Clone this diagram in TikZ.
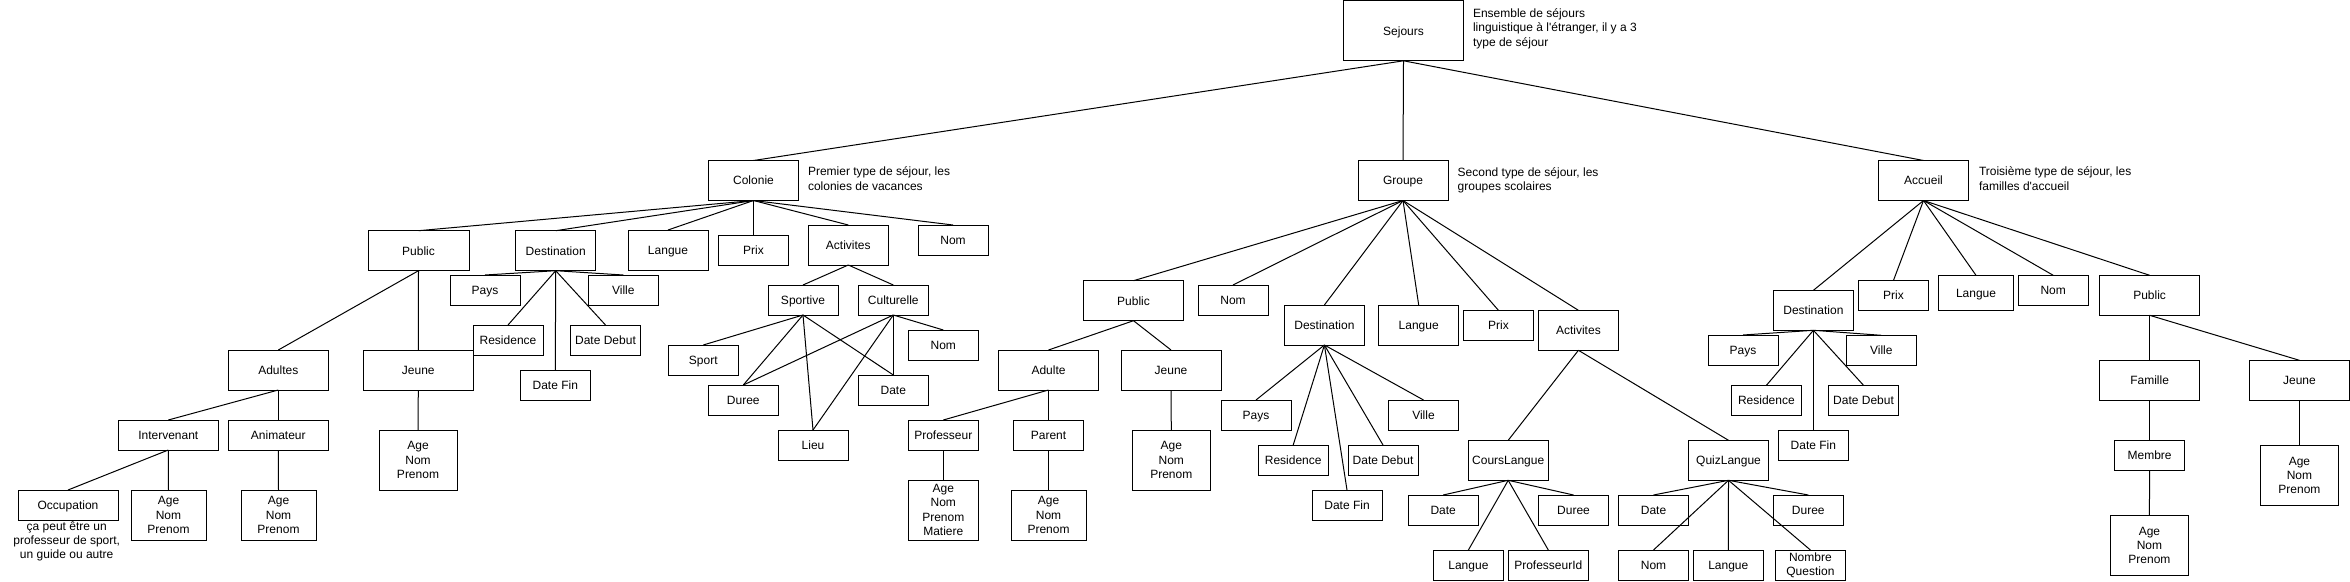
\documentclass[tikz,border=0pt]{standalone}
\usepackage{fontspec}
\setmainfont{Liberation Sans}
\tikzset{
  bx/.style={draw, line width=1pt, inner sep=0pt, outer sep=0pt, align=center, font=\fontsize{12}{14.2}\selectfont},
  oneline/.style={text height=8.6pt, text depth=0pt},
  lnk/.style={line width=1pt},
  notetext/.style={inner sep=0pt, outer sep=0pt, anchor=north west, align=left, font=\fontsize{12}{14.6}\selectfont},
}
\newcommand\mybox[6]{\node[bx, oneline, minimum width=#4pt, minimum height=#5pt] (#1) at (#2,#3) {#6};}
\newcommand\mlbox[6]{\node[bx, minimum width=#4pt, minimum height=#5pt] (#1) at (#2,#3) {#6};}
\begin{document}
\begin{tikzpicture}[x=1pt,y=-1pt]
\useasboundingbox[fill=white] (0,0) rectangle (2350,581);
% root
\mybox{sej}{1403.5}{30.8}{120}{60}{Sejours}
\node[notetext] (sejnote) at (1473,8.4) {Ensemble de séjours\\linguistique à l\textquotesingle étranger, il y a 3\\type de séjour};
% level 1
\mybox{col}{753.5}{180.5}{90}{40}{Colonie}
\mybox{grp}{1403}{180.5}{90}{40}{Groupe}
\mybox{acc}{1923.5}{180.5}{90}{40}{Accueil}
\node[notetext] (colnote) at (808,166.8) {Premier type de séjour, les\\colonies de vacances};
\node[notetext] (grpnote) at (1457.7,167.4) {Second type de séjour, les\\groupes scolaires};
\node[notetext] (accnote) at (1979,166.8) {Troisième type de séjour, les\\familles d\textquotesingle accueil};
% Colonie
\mybox{cpub}{418.5}{250.7}{101}{40}{Public}
\mybox{cdest}{555.7}{250.7}{80}{40}{Destination}
\mybox{clang}{668}{250}{80}{40}{Langue}
\mybox{cprix}{753.5}{250}{70}{30}{Prix}
\mybox{cact}{848.3}{245}{80}{40}{Activites}
\mybox{cnom}{953}{240}{70}{30}{Nom}
\mybox{cadu}{278.3}{370}{100}{40}{Adultes}
\mybox{cjeu}{418.3}{370}{110}{40}{Jeune}
\mlbox{cjeuA}{418}{460}{78}{60}{Age\\Nom\\Prenom}
\mybox{cint}{168.3}{435}{100}{30}{Intervenant}
\mybox{cani}{278.3}{435}{100}{30}{Animateur}
\mybox{cocc}{68}{505}{100}{30}{Occupation}
\mlbox{cintA}{168.5}{515}{75}{50}{Age\\Nom\\Prenom}
\mlbox{caniA}{278.5}{515}{75}{50}{Age\\Nom\\Prenom}
\begin{scope}
\clip (0,500) rectangle (200,560);
\node[inner sep=0pt, align=center, font=\fontsize{12}{14}\selectfont] (occnote) at (66.7,541.5) {ça peut être un\\professeur de sport,\\un guide ou autre};
\end{scope}
\mybox{cpays}{485}{290}{70}{30}{Pays}
\mybox{cville}{623.3}{290}{70}{30}{Ville}
\mybox{cres}{508}{340}{70}{30}{Residence}
\mybox{cdeb}{605.5}{340}{70}{30}{Date Debut}
\mybox{cfin}{555.3}{385}{70}{30}{Date Fin}
\mybox{cspo}{803}{300}{70}{30}{Sportive}
\mybox{ccul}{893.3}{300}{70}{30}{Culturelle}
\mybox{csport}{703.3}{360}{70}{30}{Sport}
\mybox{cduree}{743.3}{400}{70}{30}{Duree}
\mybox{cdate}{893.3}{390}{70}{30}{Date}
\mybox{clieu}{813}{445}{70}{30}{Lieu}
\mybox{cnomb}{943.3}{345}{70}{30}{Nom}
% Groupe
\mybox{gpub}{1133.5}{300.7}{100}{40}{Public}
\mybox{gnom}{1233}{300}{70}{30}{Nom}
\mybox{gdest}{1324.4}{325}{80}{40}{Destination}
\mybox{glang}{1418.7}{325}{80}{40}{Langue}
\mybox{gprix}{1498.4}{325.3}{70}{30}{Prix}
\mybox{gact}{1578.4}{330.3}{80}{40}{Activites}
\mybox{gadu}{1048.5}{370}{100}{40}{Adulte}
\mybox{gjeu}{1171}{370}{100}{40}{Jeune}
\mybox{gprof}{943.3}{435}{70}{30}{Professeur}
\mybox{gpar}{1048.5}{435}{70}{30}{Parent}
\mlbox{gprofA}{943.3}{510}{70}{60}{Age\\Nom\\Prenom\\Matiere}
\mlbox{gparA}{1048.5}{515}{75}{50}{Age\\Nom\\Prenom}
\mlbox{gjeuA}{1171.3}{460}{78}{60}{Age\\Nom\\Prenom}
\mybox{gpays}{1256}{415}{70}{30}{Pays}
\mybox{gville}{1423.5}{415}{70}{30}{Ville}
\mybox{gres}{1293.2}{460}{70}{30}{Residence}
\mybox{gdeb}{1383}{460}{70}{30}{Date Debut}
\mybox{gfin}{1347}{505}{70}{30}{Date Fin}
\mybox{gcours}{1508.2}{460.3}{80}{40}{CoursLangue}
\mybox{gquiz}{1728.5}{460.3}{80}{40}{QuizLangue}
\mybox{gcdate}{1443.2}{510}{70}{30}{Date}
\mybox{gcdur}{1573.5}{510}{70}{30}{Duree}
\mybox{gclang}{1468.4}{565}{70}{30}{Langue}
\mybox{gcprof}{1548.3}{565}{80}{30}{ProfesseurId}
\mybox{gqdate}{1653.5}{510}{70}{30}{Date}
\mybox{gqdur}{1808.3}{510}{70}{30}{Duree}
\mybox{gqnom}{1653.5}{565}{70}{30}{Nom}
\mybox{gqlang}{1728.3}{565}{70}{30}{Langue}
\mlbox{gqnq}{1810.4}{565}{70}{30}{Nombre\\Question}
% Accueil
\mybox{adest}{1813.4}{310.3}{80}{40}{Destination}
\mybox{aprix}{1893.5}{295.3}{70}{30}{Prix}
\mybox{alang}{1976}{292.8}{75}{35}{Langue}
\mybox{anom}{2053.2}{290.3}{70}{30}{Nom}
\mybox{apub}{2149.6}{295.3}{100}{40}{Public}
\mybox{apays}{1743}{350}{70}{30}{Pays}
\mybox{aville}{1881.3}{350.3}{70}{30}{Ville}
\mybox{ares}{1766.4}{400.3}{70}{30}{Residence}
\mybox{adeb}{1863.5}{400.3}{70}{30}{Date Debut}
\mybox{afin}{1813.4}{445}{70}{30}{Date Fin}
\mybox{afam}{2149.6}{380.3}{100}{40}{Famille}
\mybox{ajeu}{2299.4}{380.3}{100}{40}{Jeune}
\mybox{amem}{2149.6}{455.3}{70}{30}{Membre}
\mlbox{amemA}{2149.4}{545.3}{78}{60}{Age\\Nom\\Prenom}
\mlbox{ajeuA}{2299.4}{475.3}{78}{60}{Age\\Nom\\Prenom}
% connectors
\foreach \a/\b in {sej/col, sej/grp, sej/acc,
  col/cpub, col/cdest, col/clang, col/cprix, col/cact, col/cnom,
  cpub/cadu, cpub/cjeu, cadu/cint, cadu/cani, cint/cocc, cint/cintA, cani/caniA, cjeu/cjeuA,
  cdest/cpays, cdest/cville, cdest/cres, cdest/cdeb, cdest/cfin,
  cact/cspo, cact/ccul, cspo/csport, cspo/cduree, cspo/clieu, cspo/cdate,
  ccul/cnomb, ccul/cduree, ccul/clieu, ccul/cdate,
  grp/gpub, grp/gnom, grp/gdest, grp/glang, grp/gprix, grp/gact,
  gpub/gadu, gpub/gjeu, gadu/gprof, gadu/gpar, gprof/gprofA, gpar/gparA, gjeu/gjeuA,
  gdest/gpays, gdest/gville, gdest/gres, gdest/gdeb, gdest/gfin,
  gact/gcours, gact/gquiz,
  gcours/gcdate, gcours/gcdur, gcours/gclang, gcours/gcprof,
  gquiz/gqdate, gquiz/gqdur, gquiz/gqnom, gquiz/gqlang, gquiz/gqnq,
  acc/adest, acc/aprix, acc/alang, acc/anom, acc/apub,
  adest/apays, adest/aville, adest/ares, adest/adeb, adest/afin,
  apub/afam, apub/ajeu, afam/amem, amem/amemA, ajeu/ajeuA}
  \draw[lnk] (\a.south) -- (\b.north);
\end{tikzpicture}
\end{document}
